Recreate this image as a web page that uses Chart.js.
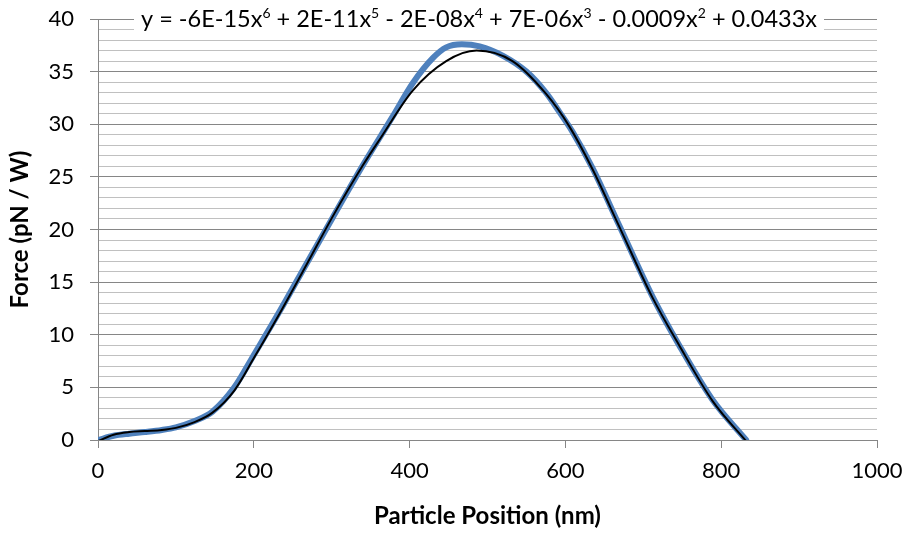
<!DOCTYPE html>
<html>
  <head>
    <meta charset="utf-8">
    <title>Particle force</title>
    <script src="https://cdn.jsdelivr.net/npm/chart.js@4.4.1/dist/chart.umd.min.js"></script>
    <style>
      html, body { margin: 0; padding: 0; background: #fff; }
    </style>
  </head>
  <body>
    <canvas id="force" width="906" height="533"></canvas>

    <script type="text/javascript">
      // measured force along the particle path
      var posX = [0, 20, 40, 60, 82, 100, 124, 147, 175, 201, 233, 268, 301, 340, 378, 404, 430, 447,
                  467, 490, 520, 550, 575, 592, 609, 635, 669, 712, 746, 789, 832];
      var forceY = [0, 0.4, 0.6, 0.75, 0.95, 1.2, 1.8, 2.7, 5.0, 8.2, 12.2, 16.8, 21.1, 26.1, 30.7, 33.9, 36.3, 37.3,
                    37.6, 37.4, 36.5, 35.0, 33.0, 31.2, 29.3, 25.8, 20.4, 13.6, 9.0, 3.8, 0];

      // 6th order polynomial trendline
      var fitX = [0, 20, 40, 60, 82, 100, 124, 147, 175, 201, 233, 268, 301, 340, 362, 404, 447, 486,
                  532, 575, 605, 635, 669, 712, 746, 789, 832];
      var fitY = [-0.1, 0.5, 0.75, 0.85, 0.95, 1.15, 1.7, 2.6, 4.7, 7.9, 12.0, 16.7, 21.2, 26.1, 28.6, 33.2, 36.0, 37.0,
                  36.0, 32.9, 29.8, 25.7, 20.3, 13.5, 9.0, 3.7, -0.1];

      var xTicks = [0, 200, 400, 600, 800, 1000];
      var yMajor = [0, 5, 10, 15, 20, 25, 30, 35, 40];

      var equation = [
        ["y = -6E-15x", false], ["6", true], [" + 2E-11x", false], ["5", true],
        [" - 2E-08x", false], ["4", true], [" + 7E-06x", false], ["3", true],
        [" - 0.0009x", false], ["2", true], [" + 0.0433x", false]
      ];

      var FONT = "Lato";
      var GRID_MAJOR = "#868686";
      var GRID_MINOR = "#c0c0c0";

      function toPoints(xs, ys) {
        return xs.map((x, i) => ({x: x, y: ys[i]}));
      }

      // every unit gets a light line, labels only on multiples of 5
      var yLines = [];
      for (var v = 0; v <= 40; v++) yLines.push(v);

      var equationLabel = {
        id: "equationLabel",
        afterDraw(chart) {
          var ctx = chart.ctx;
          var base = "23.5px " + FONT, sup = "14px " + FONT;
          var w = 0;
          equation.forEach(p => { ctx.font = p[1] ? sup : base; w += ctx.measureText(p[0]).width; });
          var cx = 479, baseline = 27;
          var x = cx - w / 2;
          ctx.save();
          ctx.fillStyle = "#fff";
          ctx.fillRect(x - 7, 4, w + 14, 30);
          ctx.fillStyle = "#000";
          ctx.textBaseline = "alphabetic";
          equation.forEach(p => {
            ctx.font = p[1] ? sup : base;
            ctx.fillText(p[0], x, p[1] ? baseline - 9 : baseline);
            x += ctx.measureText(p[0]).width;
          });
          ctx.restore();
        }
      };

      new Chart(document.getElementById("force"), {
        type: "line",
        data: {
          datasets: [{
            label: "Force",
            data: toPoints(posX, forceY),
            borderColor: "#4f81bd",
            borderWidth: 6,
            pointRadius: 0,
            cubicInterpolationMode: "monotone",
            borderCapStyle: "round",
            borderJoinStyle: "round",
            order: 1
          }, {
            label: "Poly. (Force)",
            data: toPoints(fitX, fitY),
            borderColor: "#000",
            borderWidth: 2,
            pointRadius: 0,
            cubicInterpolationMode: "monotone",
            order: 0
          }]
        },
        options: {
          responsive: false,
          animation: false,
          devicePixelRatio: 1,
          layout: { padding: { top: 19, right: 29, left: 0, bottom: 0 } },
          plugins: { legend: { display: false }, tooltip: { enabled: false } },
          scales: {
            x: {
              type: "linear",
              min: 0, max: 1000,
              afterFit: s => { s.height = 93; s.paddingLeft = 0; s.paddingRight = 0; },
              afterBuildTicks: s => { s.ticks = xTicks.map(v => ({value: v})); },
              grid: { drawOnChartArea: false, tickLength: 8, color: GRID_MAJOR },
              border: { color: GRID_MAJOR },
              ticks: { color: "#000", font: { family: FONT, size: 22 }, padding: 10, maxRotation: 0,
                       autoSkip: false, callback: v => String(v) },
              title: { display: true, text: "Particle Position (nm)", color: "#000", padding: { top: 4, bottom: 2 },
                       font: { family: FONT, size: 24, weight: "bold" } }
            },
            y: {
              min: 0, max: 40,
              afterFit: s => { s.width = 98; s.paddingTop = 0; s.paddingBottom = 0; },
              afterBuildTicks: s => { s.ticks = yLines.map(v => ({value: v})); },
              grid: {
                tickLength: 8,
                color: c => yMajor.includes(c.tick.value) ? GRID_MAJOR : GRID_MINOR,
                tickColor: c => yMajor.includes(c.tick.value) ? GRID_MAJOR : "rgba(0,0,0,0)"
              },
              border: { color: GRID_MAJOR },
              ticks: {
                color: "#000", font: { family: FONT, size: 22 }, padding: 16, autoSkip: false,
                callback: v => yMajor.includes(v) ? String(v) : ""
              },
              title: { display: true, text: "Force (pN / W)", color: "#000", padding: { top: 6, bottom: 4 },
                       font: { family: FONT, size: 24, weight: "bold" } }
            }
          }
        },
        plugins: [equationLabel]
      });
    </script>
  </body>
</html>
